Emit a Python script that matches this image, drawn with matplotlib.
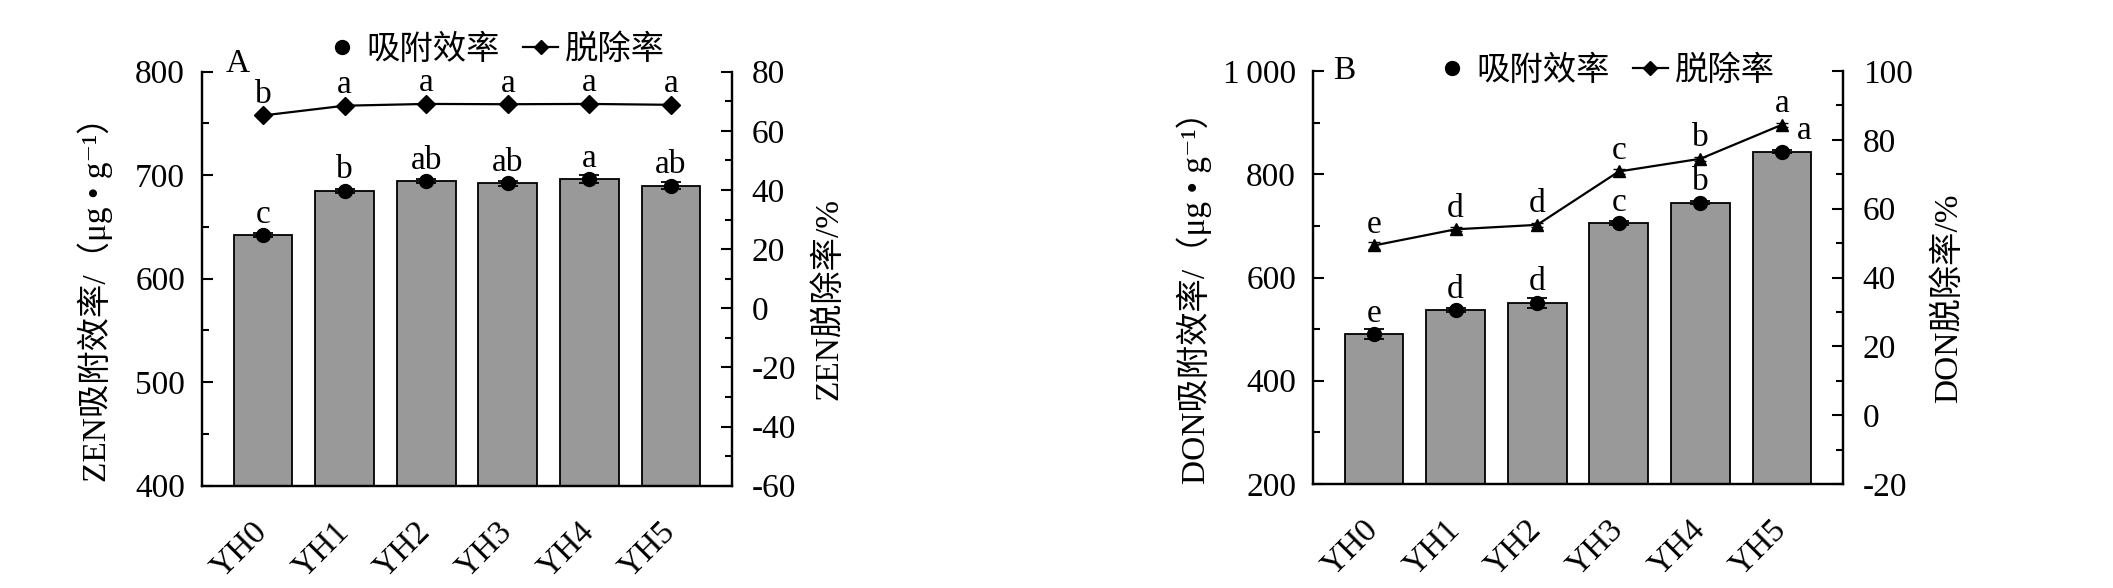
import matplotlib
matplotlib.use('Agg')
import matplotlib.pyplot as plt
from matplotlib.lines import Line2D
from matplotlib.ticker import MultipleLocator, FuncFormatter

plt.rcParams['font.family'] = ['Liberation Serif', 'Noto Sans CJK SC', 'DejaVu Serif']
plt.rcParams['axes.unicode_minus'] = False

groups = ['YH0', 'YH1', 'YH2', 'YH3', 'YH4', 'YH5']

# panel A: ZEN
zen_ads = [642, 685, 694, 692, 696, 690]
zen_ads_err = [2, 2, 2, 2, 4, 3]
zen_ads_sig = ['c', 'b', 'ab', 'ab', 'a', 'ab']
zen_rem = [65.2, 68.5, 69.1, 69.0, 69.1, 68.8]
zen_rem_err = [1.0, 0.6, 0.5, 0.5, 0.5, 0.5]
zen_rem_sig = ['b', 'a', 'a', 'a', 'a', 'a']

# panel B: DON
don_ads = [490, 537, 551, 705, 745, 844]
don_ads_err = [10, 4, 10, 4, 3, 3]
don_ads_sig = ['e', 'd', 'd', 'c', 'b', 'a']
don_rem = [49.3, 54.0, 55.3, 70.8, 74.5, 84.4]
don_rem_err = [1.0, 0.6, 0.6, 0.6, 0.6, 0.6]
don_rem_sig = ['e', 'd', 'd', 'c', 'b', 'a']

FS = 24
W, H = 2113, 588


def style_axis(ax):
    ax.tick_params(axis='y', which='major', direction='in', length=8, width=1.5,
                   labelsize=FS, pad=12)
    ax.tick_params(axis='y', which='minor', direction='in', length=5, width=1.5)
    ax.tick_params(axis='x', which='major', direction='in', length=7, width=1.5)
    for s in ax.spines.values():
        s.set_linewidth(1.6)
    ax.spines['top'].set_visible(False)


def panel(rect, ads, ads_err, ads_sig, rem, rem_err, rem_sig, ylim, yticks, ymin,
          ylim2, ymaj2, ymin2, lab1, lab2, letter, rem_marker, lab1_x, lab2_x,
          leg_xy, letter_xy, fmt=None, shift_last=False):
    fig = plt.gcf()
    ax = fig.add_axes(rect)
    x = range(len(groups))
    ax.bar(x, ads, width=0.72, color='#999999', edgecolor='black', linewidth=1.3, zorder=2)
    ax.errorbar(x, ads, yerr=ads_err, fmt='o', color='black', ms=10, capsize=7,
                elinewidth=1.3, capthick=1.3, zorder=3)
    ax.set_xlim(-0.75, 5.75)
    ax.set_ylim(*ylim)
    ax.yaxis.set_major_locator(MultipleLocator(yticks))
    ax.yaxis.set_minor_locator(MultipleLocator(ymin))
    if fmt:
        ax.yaxis.set_major_formatter(FuncFormatter(fmt))
    ax.set_xticks(list(x))
    ax.set_xticklabels(groups, rotation=45, ha='right', va='center',
                       rotation_mode='anchor', fontsize=FS)
    style_axis(ax)
    ax.tick_params(axis='x', pad=30)
    ax.set_ylabel(lab1, fontsize=FS)
    ax.yaxis.set_label_coords(lab1_x, 0.47)

    ax2 = ax.twinx()
    ax2.errorbar(x, rem, yerr=rem_err, fmt='-', marker=rem_marker, color='black',
                 ms=9, lw=1.6, capsize=4, elinewidth=1.2, zorder=3)
    ax2.set_ylim(*ylim2)
    ax2.yaxis.set_major_locator(MultipleLocator(ymaj2))
    ax2.yaxis.set_minor_locator(MultipleLocator(ymin2))
    style_axis(ax2)
    ax2.tick_params(axis='y', pad=14)
    ax2.set_ylabel(lab2, fontsize=FS)
    ax2.yaxis.set_label_coords(lab2_x, 0.45)

    for i in x:
        dx = 0
        if shift_last and i == len(groups) - 1:
            dx = 16
        ax.annotate(ads_sig[i], (i, ads[i]), xytext=(dx, 9), textcoords='offset points',
                    ha='center', va='baseline', fontsize=FS)
        ax2.annotate(rem_sig[i], (i, rem[i]), xytext=(0, 9), textcoords='offset points',
                     ha='center', va='baseline', fontsize=FS)

    ax.text(letter_xy[0], letter_xy[1], letter, transform=ax.transAxes, fontsize=FS,
            ha='left', va='center')

    handles = [Line2D([], [], ls='none', marker='o', color='black', ms=10),
               Line2D([], [], ls='-', marker='D', color='black', ms=7, lw=1.6)]
    ax.legend(handles, ['吸附效率', '脱除率'], loc='center', bbox_to_anchor=leg_xy,
              ncol=2, frameon=False, fontsize=FS, handlelength=1.05,
              handletextpad=0.2, columnspacing=0.7, borderpad=0)


fig = plt.figure(figsize=(W / 100, H / 100), dpi=100)

panel([201.7 / W, 1 - 485.7 / H, 530.6 / W, 414 / H],
      zen_ads, zen_ads_err, zen_ads_sig, zen_rem, zen_rem_err, zen_rem_sig,
      (400, 800), 100, 50, (-60, 80), 20, 10,
      'ZEN吸附效率/（μg • g⁻¹）', 'ZEN脱除率/%', 'A', 'D',
      -0.168, 1.152, (0.553, 1.052), (0.045, 1.02))

panel([1312.7 / W, 1 - 484 / H, 530.6 / W, 413 / H],
      don_ads, don_ads_err, don_ads_sig, don_rem, don_rem_err, don_rem_sig,
      (200, 1000), 200, 100, (-20, 100), 20, 10,
      'DON吸附效率/（μg • g⁻¹）', 'DON脱除率/%', 'B', '^',
      -0.19, 1.167, (0.55, 1.0), (0.038, 1.0),
      fmt=lambda v, p: '1\u2009000' if v == 1000 else f'{int(v)}', shift_last=True)

fig.savefig('out.png', dpi=100)
